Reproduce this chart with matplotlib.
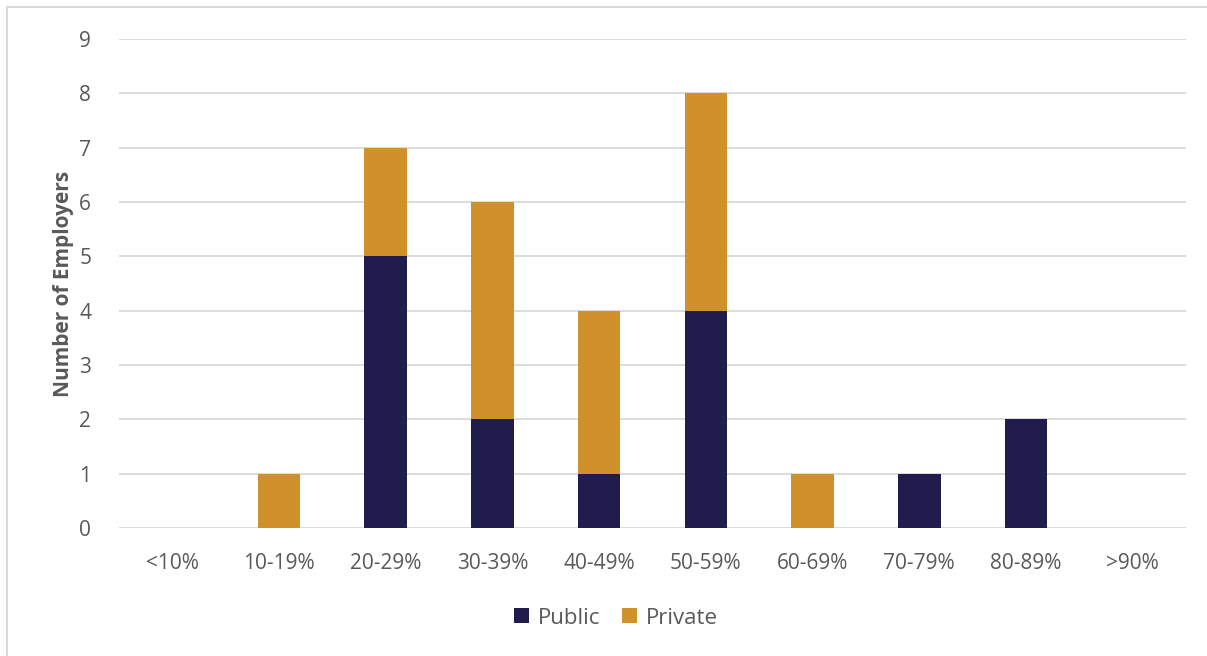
import matplotlib
matplotlib.use("Agg")
import matplotlib.pyplot as plt
import numpy as np

categories = ["<10%", "10-19%", "20-29%", "30-39%", "40-49%", "50-59%", "60-69%", "70-79%", "80-89%", ">90%"]
public = [0, 0, 5, 2, 1, 4, 0, 1, 2, 0]
private = [0, 1, 2, 4, 3, 4, 1, 0, 0, 0]
yticks = list(range(0, 10))

navy = "#201c4e"
gold = "#d0912a"
textc = "#595959"
gridc = "#d9d9d9"

plt.rcParams['font.family'] = ['Open Sans', 'DejaVu Sans']

fig = plt.figure(figsize=(12.07, 6.56), dpi=100)
ax = fig.add_axes([119/1207, 1-528/656, (1186-119)/1207, (528-39)/656])

x = np.arange(len(categories))
ax.bar(x, public, width=0.4, color=navy, label="Public", zorder=3)
ax.bar(x, private, width=0.4, bottom=public, color=gold, label="Private", zorder=3)

ax.set_xlim(-0.5, len(categories) - 0.5)
ax.set_ylim(0, 9)
ax.set_yticks(yticks)
ax.set_xticks(x)
ax.set_xticklabels(categories)
ax.tick_params(axis='both', length=0, labelsize=15, labelcolor=textc)
ax.tick_params(axis='y', pad=20)
ax.tick_params(axis='x', pad=18)
ax.grid(axis='y', color=gridc, linewidth=1.3, zorder=0)
for s in ax.spines.values():
    s.set_visible(False)
ax.set_ylabel("Number of Employers", fontsize=15, fontweight='bold', color=textc, labelpad=4)

leg = fig.legend(loc='center', bbox_to_anchor=(616/1207, 1-618/656), ncol=2, frameon=False,
                 fontsize=16, handlelength=0.65, handleheight=0.65, columnspacing=1.0, handletextpad=0.4)
for t in leg.get_texts():
    t.set_color(textc)

# outer border (left and top)
fig.add_artist(plt.Line2D([7/1207, 7/1207], [0, 1-7/656], transform=fig.transFigure, color="#d9d9d9", linewidth=1.5))
fig.add_artist(plt.Line2D([7/1207, 1], [1-7/656, 1-7/656], transform=fig.transFigure, color="#d9d9d9", linewidth=1.5))

fig.savefig("out.png", dpi=100)
